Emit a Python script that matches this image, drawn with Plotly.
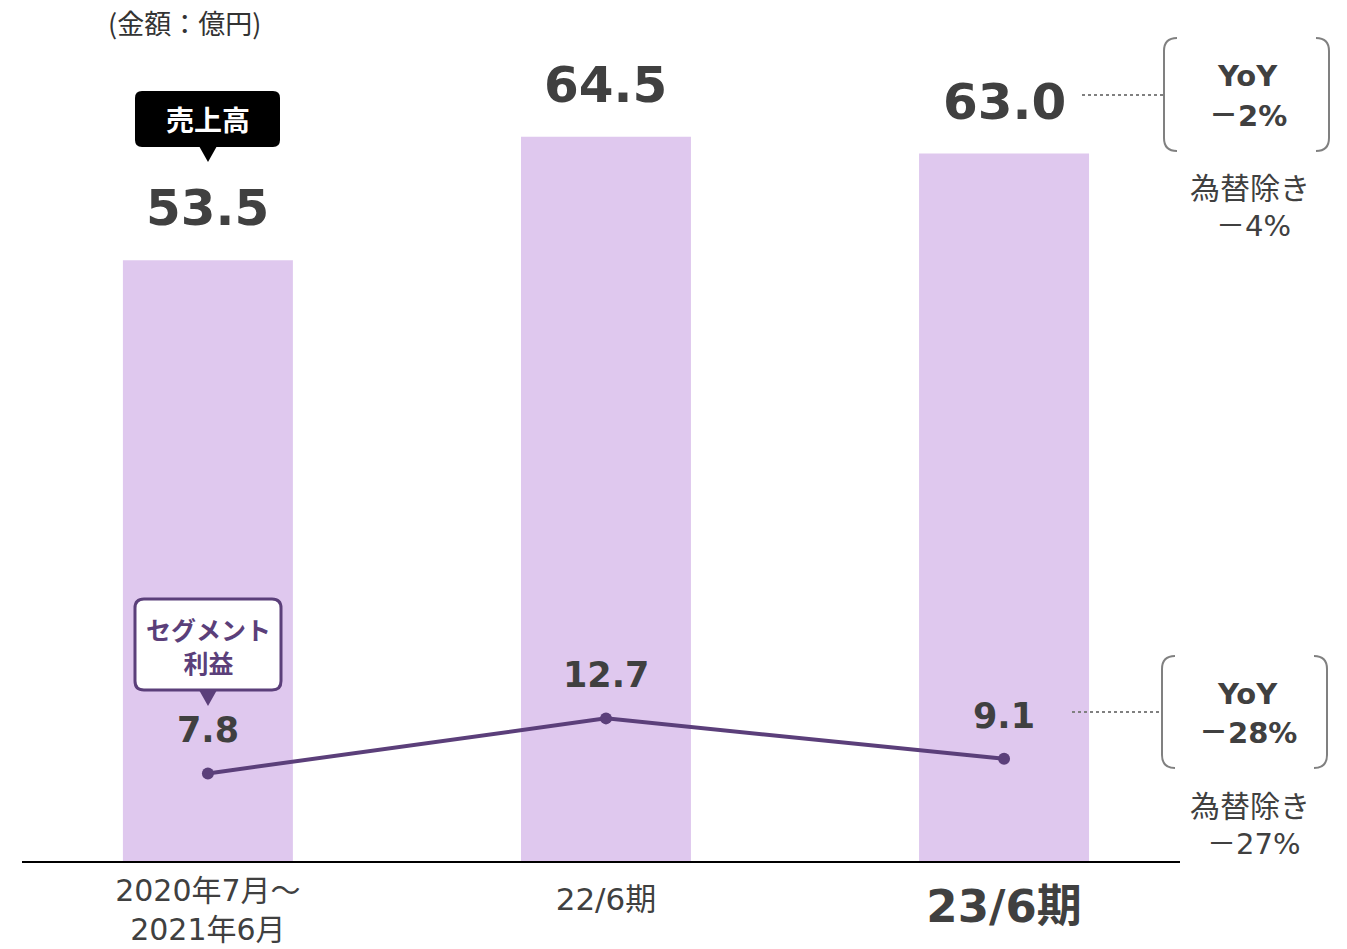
import plotly.graph_objects as go

# ---- data ----
periods = ["2020年7月～<br>2021年6月", "22/6期", "<b>23/6期</b>"]
sales = [53.5, 64.5, 63.0]
segment_profit = [7.8, 12.7, 9.1]
sales_labels = ["53.5", "64.5", "63.0"]
profit_labels = ["7.8", "12.7", "9.1"]

W, H = 1347, 949
ML, MR, MT, MB = 22, 167, 0, 88
PW, PH = W - ML - MR, H - MT - MB

BAR = "#DFC8EE"
LINE = "#5B3F7A"
DARK = "#404040"
GRAY = "#808080"
JP = "Noto Sans CJK JP"
NUM = "DejaVu Sans"
MIX = "DejaVu Sans, Noto Sans CJK JP"
XRANGE = [-0.467, 2.442]


def fx(px):
    return (px - ML) / PW


def fy(py):
    return (MT + PH - py) / PH


def label(px, py, text, size, color=DARK, family=JP):
    return dict(x=fx(px), y=fy(py), xref="paper", yref="paper", text=text, showarrow=False,
                xanchor="center", yanchor="middle", font=dict(family=family, size=size, color=color))


xs = list(range(len(periods)))

fig = go.Figure()
fig.add_trace(go.Bar(x=xs, y=sales, width=0.427, marker=dict(color=BAR, line=dict(width=0)),
                     hoverinfo="skip"))
fig.add_trace(go.Scatter(x=xs, y=segment_profit, mode="lines+markers",
                         line=dict(color=LINE, width=4), marker=dict(color=LINE, size=12),
                         hoverinfo="skip"))
# empty traces so the extra label axes are laid out
for ax in ("x2", "x3"):
    fig.add_trace(go.Scatter(x=[], y=[], xaxis=ax, yaxis="y", hoverinfo="skip"))

ann = []
# value labels above bars
for i, (v, t) in enumerate(zip(sales, sales_labels)):
    ann.append(dict(x=i, y=v, xref="x", yref="y", text=f"<b>{t}</b>", showarrow=False,
                    xanchor="center", yanchor="bottom", yshift=21,
                    font=dict(family=NUM, size=50, color=DARK)))
# value labels above line points
for i, (v, t) in enumerate(zip(segment_profit, profit_labels)):
    ann.append(dict(x=i, y=v, xref="x", yref="y", text=f"<b>{t}</b>", showarrow=False,
                    xanchor="center", yanchor="bottom", yshift=21,
                    font=dict(family=NUM, size=35, color=DARK)))

# unit note
ann.append(label(184, 22, "(金額：億円)", 27, color="#333333"))

# callout texts
ann.append(label(208, 119, "<b>売上高</b>", 28, color="white"))
ann.append(label(208, 645, "<b>セグメント<br>利益</b>", 25, color=LINE))

# YoY figures
for (cy1, cy2, t2) in [(76, 116, "－2%"), (694, 733, "－28%")]:
    ann.append(label(1247, cy1, "<b>YoY</b>", 29, family=MIX))
    ann.append(label(1248, cy2, f"<b>{t2}</b>", 29, family=MIX))
for (cy3, cy4, t4) in [(186, 226, "－4%"), (804, 844, "－27%")]:
    ann.append(label(1250, cy3, "為替除き", 30))
    ann.append(label(1253, cy4, t4, 29, family=MIX))


def P(cmds):
    out = []
    for c in cmds:
        if isinstance(c, str):
            out.append(c)
        else:
            out.append(f"{fx(c[0]):.5f},{fy(c[1]):.5f}")
    return " ".join(out)


def rounded_rect(x0, y0, x1, y1, r):
    return P(["M", (x0 + r, y0), "L", (x1 - r, y0), "Q", (x1, y0), (x1, y0 + r),
              "L", (x1, y1 - r), "Q", (x1, y1), (x1 - r, y1),
              "L", (x0 + r, y1), "Q", (x0, y1), (x0, y1 - r),
              "L", (x0, y0 + r), "Q", (x0, y0), (x0 + r, y0), "Z"])


shapes = []
# black sales callout
shapes.append(dict(type="path", xref="paper", yref="paper", layer="below",
                   path=rounded_rect(135, 91, 280, 147, 7), fillcolor="black", line=dict(width=0)))
shapes.append(dict(type="path", xref="paper", yref="paper", layer="below",
                   path=P(["M", (199, 146), "L", (217, 146), "L", (208, 162), "Z"]),
                   fillcolor="black", line=dict(width=0)))
# segment profit callout
shapes.append(dict(type="path", xref="paper", yref="paper",
                   path=rounded_rect(135, 599, 281, 690, 9),
                   fillcolor="white", line=dict(color=LINE, width=3)))
shapes.append(dict(type="path", xref="paper", yref="paper",
                   path=P(["M", (199, 690), "L", (217, 690), "L", (208, 706), "Z"]),
                   fillcolor=LINE, line=dict(width=0)))


# brackets around YoY figures
def brackets(xl, xr, y0, y1):
    r = 13
    left = P(["M", (xl + r, y0), "Q", (xl, y0), (xl, y0 + r), "L", (xl, y1 - r),
              "Q", (xl, y1), (xl + r, y1)])
    right = P(["M", (xr - r, y0), "Q", (xr, y0), (xr, y0 + r), "L", (xr, y1 - r),
               "Q", (xr, y1), (xr - r, y1)])
    return [dict(type="path", xref="paper", yref="paper", path=p,
                 line=dict(color=GRAY, width=2)) for p in (left, right)]


shapes += brackets(1164, 1329, 38, 151)
shapes += brackets(1162, 1327, 656, 768)
# dotted leaders
shapes.append(dict(type="line", xref="paper", yref="paper", x0=fx(1082), x1=fx(1164),
                   y0=fy(95), y1=fy(95), line=dict(color=GRAY, width=2, dash="dot")))
shapes.append(dict(type="line", xref="paper", yref="paper", x0=fx(1072), x1=fx(1160),
                   y0=fy(712), y1=fy(712), line=dict(color=GRAY, width=2, dash="dot")))


def label_axis(idx, standoff, size, **extra):
    d = dict(range=XRANGE, tickvals=[xs[idx]], ticktext=[periods[idx]], showgrid=False,
             zeroline=False, ticks="", ticklabelstandoff=standoff, automargin=False,
             tickfont=dict(family=MIX, size=size, color=DARK), fixedrange=True)
    d.update(extra)
    return d


fig.update_layout(
    width=W, height=H,
    margin=dict(l=ML, r=MR, t=MT, b=MB, pad=0, autoexpand=False),
    paper_bgcolor="white", plot_bgcolor="white",
    showlegend=False,
    annotations=ann, shapes=shapes,
    xaxis=label_axis(0, 2, 30, showline=True, linecolor="black", linewidth=1.5),
    xaxis2=label_axis(1, 17, 31, overlaying="x", side="bottom", showline=False),
    xaxis3=label_axis(2, 15, 45, overlaying="x", side="bottom", showline=False),
    yaxis=dict(range=[0, 76.67], visible=False, fixedrange=True),
)

fig.write_html("out.html", config={"displayModeBar": False})
